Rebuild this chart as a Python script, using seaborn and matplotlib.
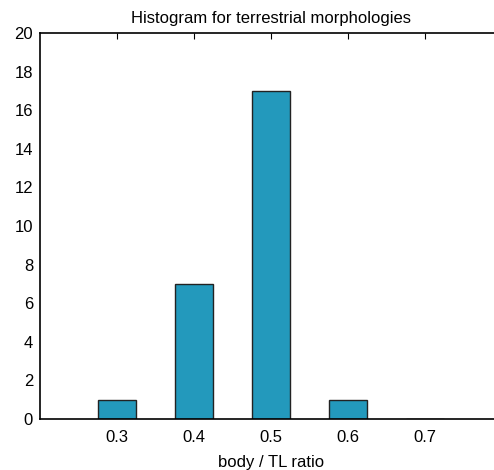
import matplotlib
matplotlib.use("Agg")
import matplotlib.pyplot as plt
import seaborn as sns
import pandas as pd

ratio = [0.3, 0.4, 0.5, 0.6, 0.7]
counts = [1, 7, 17, 1, 0]
xticks = [0.3, 0.4, 0.5, 0.6, 0.7]
yticks = [0, 2, 4, 6, 8, 10, 12, 14, 16, 18, 20]

sns.set_style("white")
plt.rcParams['font.family'] = ['Liberation Sans', 'DejaVu Sans']
plt.rcParams['text.color'] = 'black'
plt.rcParams['axes.labelcolor'] = 'black'

df = pd.DataFrame({"ratio": ratio, "count": counts})

fig = plt.figure(figsize=(4.94, 4.70), dpi=100)
ax = fig.add_axes([40/494, 51/470, 462/494, 386/470])

sns.histplot(data=df, x="ratio", weights="count", binwidth=0.1,
             binrange=(0.25, 0.75), shrink=0.5, color="#2399bc", alpha=1,
             edgecolor="#222222", linewidth=1.0, ax=ax)

ax.set_xlim(0.2, 0.8)
ax.set_ylim(0, 20)
ax.set_xticks(xticks)
ax.set_xticklabels([f"{t:.1f}" for t in xticks])
ax.set_yticks(yticks)
ax.tick_params(direction="in", top=True, right=False, length=4, width=0.8,
               labelsize=12, colors="black")
ax.tick_params(axis="x", pad=8)
ax.tick_params(axis="y", pad=5)
for s in ax.spines.values():
    s.set_color("black")
    s.set_linewidth(1.2)
ax.spines["right"].set_visible(False)
ax.set_xlabel("body / TL ratio", fontsize=12, labelpad=7, color="black")
ax.set_ylabel("")
ax.set_title("Histogram for terrestrial morphologies", fontsize=12, pad=7,
             color="black")

fig.savefig("out.png", dpi=100)
